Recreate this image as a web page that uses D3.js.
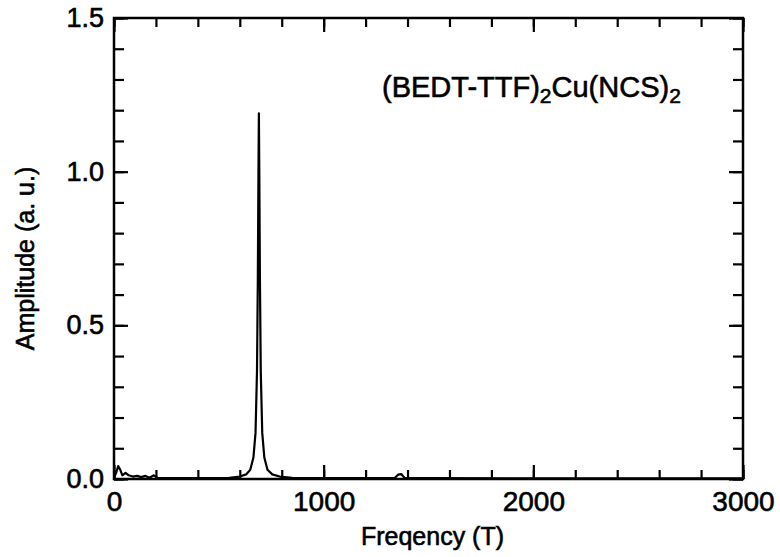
<!DOCTYPE html>
<meta charset="utf-8">
<style>
body { margin: 0; background: #fff; }
text { font-family: "Liberation Sans", Arial, sans-serif; fill: #000; stroke: #000; stroke-width: 0.6px; }
.line { fill: none; stroke: #000; stroke-width: 2.2px; stroke-linejoin: round; }
</style>
<body>
<script src="https://d3js.org/d3.v7.min.js"></script>
<script>

// spectrum: frequency (T), amplitude (a. u.)
var freq = [0, 10, 20, 30, 40, 55, 70, 90, 110, 130, 150, 170, 190, 210, 260, 350, 450, 550,
            600, 630, 650, 665, 675, 682, 686, 689, 691, 693, 696, 700, 707, 717, 732, 755,
            790, 850, 1000, 1200, 1340, 1355, 1370, 1385, 1500, 2000, 2500, 3000];
var amp  = [0.005, 0.02, 0.042, 0.03, 0.012, 0.02, 0.012, 0.008, 0.01, 0.006, 0.01, 0.004, 0.012, 0.003, 0.003, 0.003, 0.003, 0.004,
            0.008, 0.015, 0.03, 0.07, 0.15, 0.35, 0.65, 1.0, 1.19, 1.0, 0.65, 0.35, 0.15, 0.07, 0.03, 0.015,
            0.008, 0.004, 0.003, 0.003, 0.004, 0.014, 0.016, 0.004, 0.003, 0.002, 0.002, 0.002];

var xMajor = [0, 1000, 2000, 3000];
var yMajor = [0.0, 0.5, 1.0, 1.5];

var data = freq.map(function(f, i) { return {f: f, a: amp[i]}; });

var margin = {top: 18, right: 37, bottom: 78, left: 114},
    width = 780 - margin.left - margin.right,
    height = 557 - margin.top - margin.bottom;

var x = d3.scaleLinear().domain([0, 3000]).range([0, width]);
var y = d3.scaleLinear().domain([0, 1.5]).range([height, 0]);

var svg = d3.select("body").append("svg")
    .attr("width", 780)
    .attr("height", 557)
  .append("g")
    .attr("transform", "translate(" + margin.left + "," + margin.top + ")");

var valueline = d3.line()
    .x(function(d) { return x(d.f); })
    .y(function(d) { return y(d.a); });

svg.append("path")
    .datum(data)
    .attr("class", "line")
    .attr("d", valueline);

// inward ticks on all four sides
var xMinor = d3.range(0, 3001, 200), yMinor = d3.range(0, 1.501, 0.1);
function tickG(axis, t) {
  return svg.append("g").attr("transform", t).call(axis)
    .call(function(g) { g.select(".domain").remove(); g.selectAll("line").attr("stroke-width", 2.2); });
}
tickG(d3.axisTop(x).tickValues(xMinor).tickSize(9).tickFormat(""), "translate(0," + height + ")");
tickG(d3.axisTop(x).tickValues(xMajor).tickSize(14).tickFormat(""), "translate(0," + height + ")");
tickG(d3.axisBottom(x).tickValues(xMinor).tickSize(9).tickFormat(""), "translate(0,0)");
tickG(d3.axisBottom(x).tickValues(xMajor).tickSize(14).tickFormat(""), "translate(0,0)");
tickG(d3.axisRight(y).tickValues(yMinor).tickSize(10).tickFormat(""), "translate(0,0)");
tickG(d3.axisRight(y).tickValues(yMajor).tickSize(14).tickFormat(""), "translate(0,0)");
tickG(d3.axisLeft(y).tickValues(yMinor).tickSize(10).tickFormat(""), "translate(" + width + ",0)");
tickG(d3.axisLeft(y).tickValues(yMajor).tickSize(14).tickFormat(""), "translate(" + width + ",0)");

// tick labels
var xl = svg.append("g")
    .attr("transform", "translate(0," + height + ")")
    .call(d3.axisBottom(x).tickValues(xMajor).tickSize(0).tickPadding(12).tickFormat(d3.format("d")));
xl.select(".domain").remove();
xl.selectAll("text").style("font-size", "28px").style("font-family", "Liberation Sans, Arial, sans-serif").attr("dy", "0.72em");

var yl = svg.append("g")
    .call(d3.axisLeft(y).tickValues(yMajor).tickSize(0).tickPadding(10).tickFormat(d3.format(".1f")));
yl.select(".domain").remove();
yl.selectAll("text").style("font-size", "27px").style("font-family", "Liberation Sans, Arial, sans-serif");

// frame
svg.append("rect")
    .attr("width", width).attr("height", height)
    .attr("fill", "none").attr("stroke", "#000").attr("stroke-width", 2.5);

// axis titles
svg.append("text")
    .attr("x", width / 2 + 4).attr("y", height + 66)
    .style("text-anchor", "middle").style("font-size", "25px")
    .text("Freqency (T)");

svg.append("text")
    .attr("transform", "rotate(-90)")
    .attr("x", -height / 2 - 10).attr("y", -80)
    .style("text-anchor", "middle").style("font-size", "25px")
    .text("Amplitude (a. u.)");

// compound label
var lab = svg.append("text")
    .attr("x", 268).attr("y", 79)
    .style("font-size", "29px");
lab.append("tspan").text("(BEDT-TTF)");
lab.append("tspan").attr("dy", 6).style("font-size", "21px").text("2");
lab.append("tspan").attr("dy", -6).text("Cu(NCS)");
lab.append("tspan").attr("dy", 6).style("font-size", "21px").text("2");

</script>
</body>
